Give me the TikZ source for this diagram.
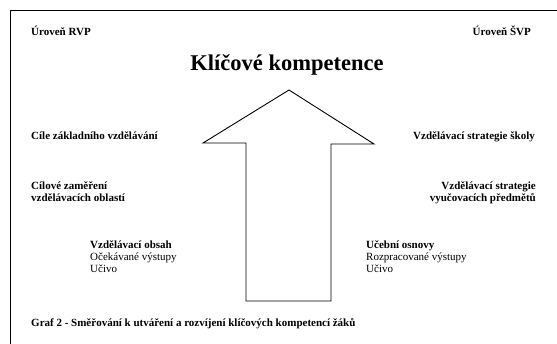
\documentclass[tikz,border=0pt]{standalone}
\usepackage{fontspec}
\setmainfont{Liberation Serif}
\begin{document}
\begin{tikzpicture}[x=1pt,y=-1pt,
  bld/.style={inner sep=0pt, font=\fontsize{11}{13}\selectfont\bfseries},
  reg/.style={inner sep=0pt, font=\fontsize{11}{13}\selectfont},
  ttl/.style={inner sep=0pt, font=\fontsize{22.5}{26}\selectfont\bfseries},
  frameline/.style={line width=1pt},
  bigarrow/.style={line width=0.9pt, line join=miter}]
\useasboundingbox (0,0) rectangle (557,344);
\fill[white] (0,0) rectangle (557,344);
% frame
\draw[frameline] (557,11) -- (10,11) -- (10,344);
% arrow
\draw[bigarrow] (289,90) -- (374,144) -- (331,144) -- (331,301) -- (246,301) -- (246,143) -- (203,143) -- cycle;
% texts
\node[bld, anchor=base west] (rvp) at (31,35.5) {Úroveň RVP};
\node[bld, anchor=base east] (svp) at (531,35.5) {Úroveň ŠVP};
\node[ttl, anchor=base] (title) at (287,71) {Klíčové kompetence};
\node[bld, anchor=base west] (cile) at (31,139.5) {Cíle základního vzdělávání};
\node[bld, anchor=base east] (strat) at (535,139.5) {Vzdělávací strategie školy};
\node[bld, anchor=base west] (cil1) at (31,189.5) {Cílové zaměření};
\node[bld, anchor=base west] (cil2) at (31,201.5) {vzdělávacích oblastí};
\node[bld, anchor=base east] (vs1) at (536,189.5) {Vzdělávací strategie};
\node[bld, anchor=base east] (vs2) at (536,201.5) {vyučovacích předmětů};
\node[bld, anchor=base west] (obs1) at (90,248.5) {Vzdělávací obsah};
\node[reg, anchor=base west] (obs2) at (90,260.5) {Očekávané výstupy};
\node[reg, anchor=base west] (obs3) at (90,272.5) {Učivo};
\node[bld, anchor=base west] (osn1) at (366,248.5) {Učební osnovy};
\node[reg, anchor=base west] (osn2) at (366,260.5) {Rozpracované výstupy};
\node[reg, anchor=base west] (osn3) at (366,272.5) {Učivo};
\node[bld, anchor=base west] (graf) at (31,326.5) {Graf 2 - Směřování k utváření a rozvíjení klíčových kompetencí žáků};
\end{tikzpicture}
\end{document}
